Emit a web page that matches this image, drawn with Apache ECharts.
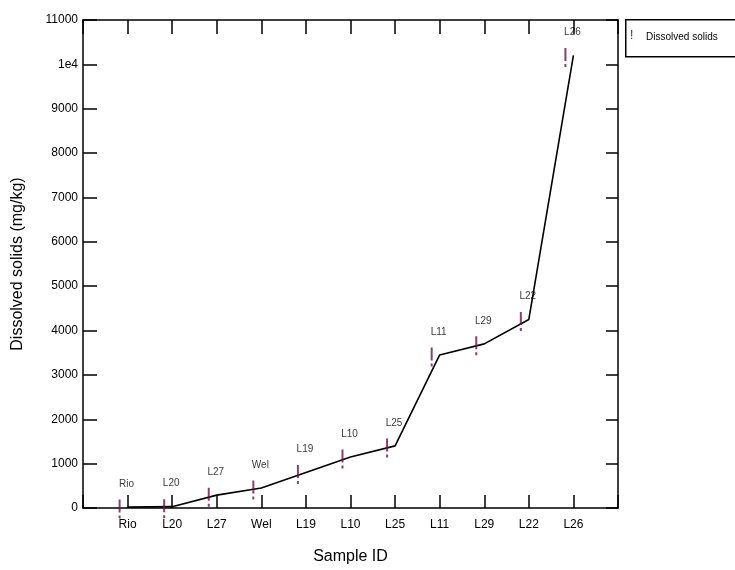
<!DOCTYPE html>
<html>
<head>
<meta charset="utf-8">
<script src="https://cdn.jsdelivr.net/npm/echarts@6/dist/echarts.min.js"></script>
<style>
  html, body { margin: 0; padding: 0; background: #fff; }
  #chart { width: 735px; height: 570px; }
</style>
</head>
<body>
<div id="chart"></div>
<script>
( function() {

	// sample order along the x axis
	const samples = ['Rio', 'L20', 'L27', 'Wel', 'L19', 'L10', 'L25', 'L11', 'L29', 'L22', 'L26'];
	// dissolved solids, mg/kg
	const solids = [20, 30, 290, 450, 800, 1150, 1400, 3450, 3700, 4250, 10200];
	const yTicks = [0, 1000, 2000, 3000, 4000, 5000, 6000, 7000, 8000, 9000, 10000, 11000];

	const font = '"Liberation Sans", Arial, sans-serif';
	const markColor = '#6e1242';
	const bang = 'path://M0,0 L2,0 L2,13 L0,13 Z M0,16 L2,16 L2,19 L0,19 Z';

	const points = samples.map((name, i) => ({ name: name, value: [i, solids[i]] }));

	const xBase = {
		type: 'value', min: -1, max: 11, interval: 1,
		axisLine: { onZero: false, lineStyle: { color: '#000', width: 1.5 } },
		axisTick: { inside: true, length: 13, lineStyle: { color: '#000', width: 1.5 } },
		splitLine: { show: false }
	};
	const yBase = {
		type: 'value', min: yTicks[0], max: yTicks[yTicks.length - 1], interval: 1000,
		axisLine: { show: true, onZero: false, lineStyle: { color: '#000', width: 1.5 } },
		axisTick: { show: true, inside: true, length: 14, lineStyle: { color: '#000', width: 1.5 } },
		splitLine: { show: false }
	};

	const option = {
		backgroundColor: '#fff',
		animation: false,
		textStyle: { fontFamily: font },
		grid: { left: 83, top: 20, right: 117, bottom: 58 },
		xAxis: [
			Object.assign({}, xBase, {
				position: 'bottom',
				name: 'Sample ID', nameLocation: 'middle', nameGap: 41,
				nameTextStyle: { color: '#000', fontSize: 16, fontFamily: font },
				axisLabel: {
					color: '#000', fontSize: 12, margin: 11, fontFamily: font,
					formatter: v => samples[v] || ''
				}
			}),
			Object.assign({}, xBase, {
				position: 'top', axisLabel: { show: false },
				axisTick: { inside: true, length: 14, lineStyle: { color: '#000', width: 1.5 } }
			})
		],
		yAxis: [
			Object.assign({}, yBase, {
				position: 'left',
				name: 'Dissolved solids (mg/kg)', nameLocation: 'middle', nameGap: 57,
				nameTextStyle: { color: '#000', fontSize: 16, fontFamily: font },
				axisLabel: {
					color: '#000', fontSize: 12, margin: 5, fontFamily: font,
					formatter: v => v === 10000 ? '1e4' : String(v)
				}
			}),
			Object.assign({}, yBase, {
				position: 'right', axisLabel: { show: false },
				axisTick: { show: true, inside: true, length: 12, lineStyle: { color: '#000', width: 1.5 } }
			})
		],
		series: [
			{
				type: 'line',
				data: points,
				symbol: 'none',
				lineStyle: { color: '#000', width: 1.6 },
				z: 3
			},
			{
				type: 'scatter',
				data: points,
				symbol: bang,
				symbolSize: [2, 19],
				symbolOffset: [-8, 2],
				itemStyle: { color: markColor },
				z: 4
			},
			{
				type: 'scatter',
				data: points,
				symbolSize: 1,
				itemStyle: { color: 'rgba(0,0,0,0)' },
				label: {
					show: true, position: 'inside', offset: [-1, -23],
					color: '#000', fontSize: 10, fontFamily: font,
					formatter: p => p.name
				},
				z: 5
			}
		],
		graphic: [
			{
				type: 'rect', left: 625, top: 19,
				shape: { width: 130, height: 37 },
				style: { fill: '#fff', stroke: '#000', lineWidth: 1.5 }
			},
			{
				type: 'text', left: 630, top: 30,
				style: { text: '!', fill: markColor, font: '12px ' + font }
			},
			{
				type: 'text', left: 646, top: 32,
				style: { text: 'Dissolved solids', fill: '#000', font: '10px ' + font }
			}
		]
	};

	const myChart = echarts.init(document.getElementById('chart'));
	myChart.setOption(option);

}() );
</script>
</body>
</html>
